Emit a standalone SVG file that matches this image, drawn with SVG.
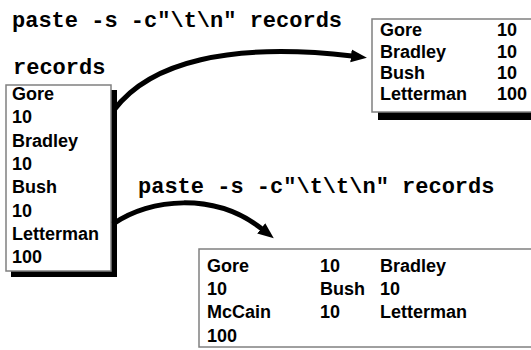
<svg xmlns="http://www.w3.org/2000/svg" width="531" height="350" viewBox="0 0 531 350">
<style>
.cmd{font-family:"Liberation Mono","Courier New",monospace;font-weight:bold;font-size:22px;fill:#000}
.t{font-family:"Liberation Sans",Arial,sans-serif;font-weight:bold;font-size:18px;fill:#000}
.box{fill:#fff;stroke:#808080;stroke-width:1.5}
.sh{fill:#000}
.conn{fill:none;stroke:#000;stroke-width:5}
</style>
<defs>
<marker id="ah" markerUnits="userSpaceOnUse" markerWidth="18" markerHeight="14" viewBox="0 -7 18 14" refX="1" refY="0" orient="auto">
<path d="M0,-6.5 L16,0 L0,6.5 z" fill="#000"/>
</marker>
</defs>
<rect width="531" height="350" fill="#fff"/>
<text class="cmd" x="12" y="27">paste -s -c"\t\n" records</text>
<text class="cmd" x="13" y="74">records</text>
<text class="cmd" x="138" y="193">paste -s -c"\t\t\n" records</text>

<g id="records">
<rect class="sh" x="11" y="90" width="106" height="187"/>
<rect class="box" x="6" y="85" width="105" height="186"/>
<text class="t" x="12" y="100">Gore</text>
<text class="t" x="12" y="123">10</text>
<text class="t" x="12" y="147">Bradley</text>
<text class="t" x="12" y="170">10</text>
<text class="t" x="12" y="193">Bush</text>
<text class="t" x="12" y="217">10</text>
<text class="t" x="12" y="240">Letterman</text>
<text class="t" x="12" y="263">100</text>
</g>

<g id="out1">
<rect class="sh" x="378" y="26" width="200" height="94"/>
<rect class="box" x="372" y="19" width="200" height="93"/>
<text class="t" x="380" y="36">Gore</text>
<text class="t" x="497" y="36">10</text>
<text class="t" x="380" y="58">Bradley</text>
<text class="t" x="497" y="58">10</text>
<text class="t" x="380" y="79">Bush</text>
<text class="t" x="497" y="79">10</text>
<text class="t" x="380" y="100">Letterman</text>
<text class="t" x="497" y="100">100</text>
</g>

<g id="out2">
<rect class="box" x="199" y="249" width="340" height="98"/>
<text class="t" x="207" y="272">Gore</text>
<text class="t" x="320" y="272">10</text>
<text class="t" x="380" y="272">Bradley</text>
<text class="t" x="207" y="295">10</text>
<text class="t" x="320" y="295">Bush</text>
<text class="t" x="380" y="295">10</text>
<text class="t" x="207" y="318">McCain</text>
<text class="t" x="320" y="318">10</text>
<text class="t" x="380" y="318">Letterman</text>
<text class="t" x="207" y="342">100</text>
</g>

<g id="connectors">
<path class="conn" d="M114,110 C150,62 230,42 352,56" marker-end="url(#ah)"/>
<path class="conn" d="M113,224 C150,198 215,192 262,229" marker-end="url(#ah)"/>
</g>
</svg>
